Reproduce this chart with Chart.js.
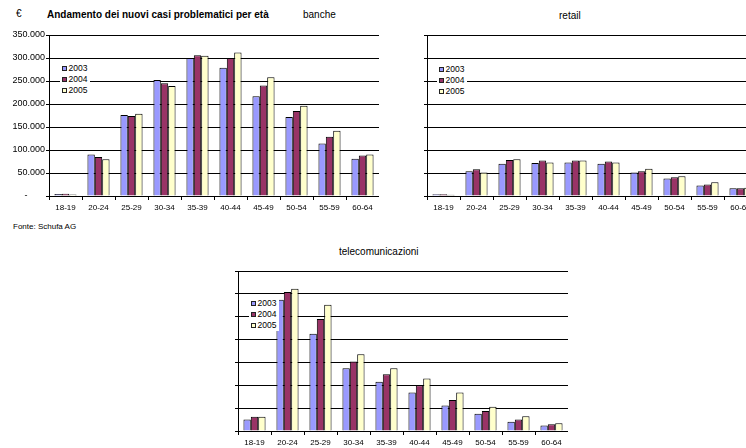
<!DOCTYPE html>
<html lang="it">
<head>
<meta charset="utf-8">
<title>Andamento dei nuovi casi problematici per età</title>
<script src="https://cdn.jsdelivr.net/npm/chart.js@4.4.1/dist/chart.umd.min.js"></script>
<style>
  html, body { margin: 0; padding: 0; background: #fff; }
  body {
    width: 746px; height: 448px; overflow: hidden; position: relative;
    font-family: "Liberation Sans", Arial, sans-serif; color: #000;
  }
  .t { position: absolute; white-space: nowrap; line-height: 1; }
  .panel { position: absolute; }
  .panel canvas { display: block; }
  .legend {
    position: absolute; background: #fff; padding: 0 3px 0 2px;
    font-size: 8.5px; line-height: 11px; z-index: 2;
  }
  .legend .row { display: flex; align-items: center; height: 11px; }
  .legend .sw {
    display: inline-block; width: 3px; height: 3px;
    border: 1px solid #222; margin-right: 1.5px;
  }
</style>
</head>
<body>

<div class="t" style="left:16px; top:9px; font-size:10px;">€</div>
<div class="t" style="left:47px; top:10px; font-size:10px; font-weight:bold;">Andamento dei nuovi casi problematici per età</div>
<div class="t" style="left:303px; top:10px; font-size:10px;">banche</div>
<div class="t" style="left:559px; top:11px; font-size:10px;">retail</div>
<div class="t" style="left:339px; top:247px; font-size:10px;">telecomunicazioni</div>
<div class="t" style="left:13px; top:223px; font-size:8px;">Fonte: Schufa AG</div>

<div class="panel" style="left:0px; top:25px;"><canvas id="banche" width="379" height="193"></canvas></div>
<div class="panel" style="left:380px; top:25px;"><canvas id="retail" width="377" height="193"></canvas></div>
<div class="panel" style="left:190px; top:262px;"><canvas id="tlc" width="378" height="186"></canvas></div>

<div class="legend" id="legBanche" style="left:60px; top:63px;"></div>
<div class="legend" id="legRetail" style="left:437px; top:64px;"></div>
<div class="legend" id="legTlc" style="left:249px; top:298px;"></div>

<script>
// Age groups (categories) and years (series)
const ageGroups = ['18-19', '20-24', '25-29', '30-34', '35-39', '40-44', '45-49', '50-54', '55-59', '60-64'];
const years = ['2003', '2004', '2005'];
const yearColors = ['#9999FF', '#993366', '#FFFFCC'];

// Value axis (€)
const yMin = 0;
const yMax = 350000;
const yStep = 50000;

// Banche
const banche2003 = [4500, 90000, 176000, 252000, 300000, 279000, 217000, 172000, 114000, 81000];
const banche2004 = [5000, 85000, 174000, 245000, 306000, 300000, 240000, 185000, 129000, 88000];
const banche2005 = [3500, 80000, 179000, 239000, 305000, 312000, 258000, 196000, 142000, 90000];

// Retail
const retail2003 = [4000, 54000, 70000, 72000, 73000, 70000, 51000, 38000, 23000, 17000];
const retail2004 = [4000, 58000, 78000, 77000, 77000, 75000, 54000, 41000, 25000, 17000];
const retail2005 = [2500, 51000, 80000, 73000, 77000, 73000, 59000, 43000, 30000, 18000];

// Telecomunicazioni
const tlc2003 = [25000, 287000, 213000, 137000, 108000, 84000, 56000, 38000, 20000, 12000];
const tlc2004 = [31000, 304000, 245000, 152000, 124000, 100000, 68000, 44000, 25000, 15000];
const tlc2005 = [31000, 311000, 276000, 168000, 137000, 115000, 84000, 53000, 32000, 17000];

const FONT = "'Liberation Sans', Arial, sans-serif";
Chart.defaults.font.family = FONT;
Chart.defaults.color = '#000';

// Italian thousands format; zero shown as a dash (accounting style)
function formatEuro(v) {
  if (v === 0) return '-       ';
  return String(v).replace(/\B(?=(\d{3})+(?!\d))/g, '.');
}

function makePanel(id, series, o) {
  const datasets = series.map((values, i) => ({
    label: years[i],
    data: values,
    backgroundColor: yearColors[i],
    borderColor: '#000',
    borderWidth: 1,
    categoryPercentage: 0.67,
    barPercentage: 1.0
  }));
  return new Chart(document.getElementById(id), {
    type: 'bar',
    data: { labels: ageGroups, datasets },
    options: {
      responsive: false,
      animation: false,
      events: [],
      layout: { padding: { top: o.padTop, right: 0, left: 0, bottom: 0 } },
      plugins: { legend: { display: false }, tooltip: { enabled: false }, title: { display: false } },
      scales: {
        x: {
          offset: true,
          grid: { offset: true, drawOnChartArea: false, drawTicks: true, tickLength: 4, color: '#000', lineWidth: 1 },
          border: { color: '#000', width: 1 },
          ticks: { color: '#000', font: { size: 8, family: FONT }, padding: 3, maxRotation: 0, autoSkip: false },
          afterFit(s) { s.height = o.xHeight; }
        },
        y: {
          min: yMin,
          max: yMax,
          grid: { color: '#000', lineWidth: 1, drawTicks: true, tickLength: 3 },
          border: { color: '#000', width: 1 },
          ticks: {
            stepSize: yStep,
            display: o.showY,
            color: '#000',
            padding: 1,
            font: { size: 9, family: FONT },
            callback: formatEuro
          },
          afterFit(s) { s.width = o.yWidth; }
        }
      }
    }
  });
}

// HTML legend built from the chart's datasets
function buildLegend(chart, elId) {
  const el = document.getElementById(elId);
  chart.data.datasets.forEach(ds => {
    const row = document.createElement('div');
    row.className = 'row';
    const sw = document.createElement('span');
    sw.className = 'sw';
    sw.style.background = ds.backgroundColor;
    const tx = document.createElement('span');
    tx.textContent = ds.label;
    row.appendChild(sw);
    row.appendChild(tx);
    el.appendChild(row);
  });
}

const cBanche = makePanel('banche', [banche2003, banche2004, banche2005], { showY: true, yWidth: 49, xHeight: 22, padTop: 10 });
const cRetail = makePanel('retail', [retail2003, retail2004, retail2005], { showY: false, yWidth: 47, xHeight: 22, padTop: 10 });
const cTlc = makePanel('tlc', [tlc2003, tlc2004, tlc2005], { showY: false, yWidth: 48, xHeight: 17, padTop: 9 });

buildLegend(cBanche, 'legBanche');
buildLegend(cRetail, 'legRetail');
buildLegend(cTlc, 'legTlc');
</script>
</body>
</html>
